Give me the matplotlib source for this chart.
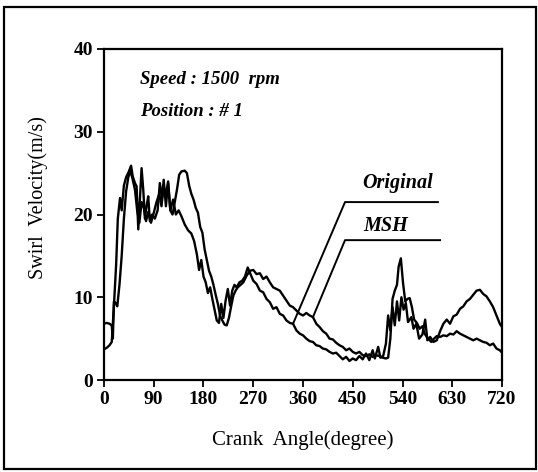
import matplotlib
matplotlib.use('Agg')
import matplotlib.pyplot as plt
from matplotlib.patches import Rectangle

plt.rcParams['font.family'] = 'Liberation Serif'

# Original
ang_orig = [0, 5, 10, 14, 18, 22, 25, 29, 32, 36, 40, 45, 49, 52, 56, 59, 62, 65, 68, 71,
            74, 77, 80, 83, 87, 92, 97, 101, 105, 108, 112, 116, 120, 125, 130, 135, 140, 146, 152, 158,
            163, 168, 172, 176, 180, 184, 188, 192, 196, 200, 204, 208, 212, 216, 220, 224, 228, 232, 236, 240,
            245, 250, 255, 260, 265, 270, 276, 282, 288, 294, 300, 306, 312, 318, 324, 330, 336, 342, 348, 354,
            360, 366, 372, 378, 384, 390, 396, 402, 408, 414, 420, 426, 432, 438, 444, 450, 456, 462, 468, 474,
            480, 486, 490, 496, 500, 505, 510, 514, 518, 522, 526, 530, 534, 538, 542, 546, 550, 556, 560, 565,
            570, 576, 581, 585, 590, 596, 602, 608, 614, 620, 626, 632, 638, 644, 650, 656, 662, 668, 674, 680,
            686, 692, 698, 704, 710, 716, 720]
vel_orig = [3.7, 3.9, 4.2, 4.6, 9.0, 14.0, 19.5, 22.0, 20.5, 23.5, 24.5, 25.2, 25.9, 24.6, 23.8, 23.4, 18.2, 22.0, 25.6, 23.0,
            19.5, 21.0, 22.2, 19.2, 20.0, 19.5, 20.5, 23.8, 22.0, 24.2, 21.0, 23.8, 20.5, 21.8, 20.0, 20.5, 19.8, 18.8, 18.1, 17.7,
            16.8, 15.2, 13.3, 14.5, 12.5, 11.8, 10.5, 11.2, 9.8, 8.5, 7.2, 6.9, 9.2, 7.5, 9.6, 11.0, 9.0, 10.8, 11.5, 11.2,
            11.8, 12.0, 12.5, 13.6, 12.8, 12.0, 11.6, 10.8, 10.6, 9.8, 9.4, 8.6, 8.8, 8.0, 7.8, 7.2, 6.9, 6.8, 6.0, 5.6,
            5.4, 5.0, 4.7, 4.6, 4.2, 4.1, 3.8, 3.7, 3.4, 3.2, 3.3, 2.9, 2.5, 2.8, 2.3, 2.6, 2.4, 2.9, 2.5, 3.2,
            2.4, 3.6, 2.6, 4.0, 2.7, 2.9, 4.4, 7.8, 6.0, 8.8, 6.6, 9.5, 7.2, 10.0, 8.5, 9.3, 7.0, 7.6, 6.2, 6.8,
            5.0, 5.5, 7.3, 4.8, 5.2, 4.6, 4.8, 5.9, 6.8, 7.3, 6.8, 7.7, 7.9, 8.6, 8.9, 9.5, 9.8, 10.3, 10.8, 10.9,
            10.4, 10.1, 9.5, 8.8, 7.8, 6.8, 6.4]

# MSH
ang_msh = [0, 5, 10, 14, 16, 18, 21, 24, 28, 32, 36, 40, 44, 48, 52, 56, 60, 64, 68, 72,
           76, 80, 85, 90, 95, 100, 104, 108, 112, 116, 120, 124, 128, 132, 136, 140, 146, 150, 154, 158,
           162, 166, 170, 174, 178, 182, 186, 190, 194, 198, 202, 206, 210, 214, 218, 222, 226, 230, 234, 238,
           242, 247, 252, 258, 264, 270, 276, 282, 288, 294, 300, 306, 312, 318, 324, 330, 336, 342, 348, 354,
           360, 366, 372, 378, 384, 390, 396, 402, 408, 414, 420, 426, 432, 438, 444, 450, 456, 462, 468, 474,
           480, 486, 492, 498, 504, 510, 514, 518, 522, 526, 530, 533, 537, 541, 545, 549, 553, 557, 561, 566,
           571, 576, 580, 584, 588, 592, 597, 602, 608, 614, 620, 626, 632, 638, 644, 650, 656, 662, 668, 674,
           680, 686, 692, 698, 704, 710, 716, 720]
vel_msh = [6.8, 6.9, 6.8, 6.6, 5.0, 9.5, 9.3, 8.9, 11.5, 15.0, 19.5, 22.8, 24.5, 25.3, 24.2, 23.0, 20.5, 19.0, 21.5, 20.8,
           19.2, 20.3, 19.0, 20.2, 21.5, 22.5, 21.0, 23.5, 22.2, 24.0, 20.5, 20.0, 21.5, 23.0, 24.8, 25.2, 25.3, 25.0, 23.5, 22.5,
           21.8, 20.8, 20.2, 18.5, 17.8, 15.8, 14.5, 13.2, 12.5, 11.5, 10.3, 9.2, 7.8, 7.2, 6.7, 6.6, 7.5, 8.9, 10.2, 10.8,
           11.2, 11.5, 11.8, 12.6, 13.2, 13.3, 12.8, 12.9, 12.2, 12.5, 11.8, 11.2, 11.0, 10.8, 10.2, 9.6, 9.0, 8.8, 8.4, 8.0,
           7.8, 8.1, 7.8, 7.6, 6.8, 6.4, 5.9, 5.6, 5.0, 4.9, 4.5, 4.2, 4.0, 3.6, 3.8, 3.4, 3.2, 3.4, 3.0, 2.9,
           3.1, 2.8, 3.0, 2.9, 2.7, 2.6, 2.7, 5.0, 9.8, 10.8, 11.5, 13.7, 14.7, 11.7, 9.5, 9.8, 9.9, 8.8, 7.3, 6.9,
           6.2, 6.5, 5.6, 5.2, 4.9, 4.6, 5.0, 5.3, 5.2, 5.4, 5.3, 5.6, 5.5, 5.9, 5.6, 5.4, 5.2, 5.0, 4.8, 5.0,
           4.8, 4.6, 4.5, 4.2, 4.4, 3.8, 3.6, 3.3]

x_ticks = [0, 90, 180, 270, 360, 450, 540, 630, 720]
y_ticks = [0, 10, 20, 30, 40]

fig = plt.figure(figsize=(5.38, 4.72), dpi=100)
ax = fig.add_axes([0.1933, 0.1949, 0.7398, 0.7013])

ax.plot(ang_orig, vel_orig, color='black', linewidth=1.7)
ax.plot(ang_msh, vel_msh, color='black', linewidth=1.7)

ax.set_xlim(0, 720)
ax.set_ylim(0, 40)
ax.set_xticks(x_ticks)
ax.set_yticks(y_ticks)
ax.tick_params(direction='out', length=5, width=1.3, labelsize=14, pad=3)
for lab in ax.get_xticklabels() + ax.get_yticklabels():
    lab.set_fontweight('bold')
for s in ax.spines.values():
    s.set_linewidth(1.6)

ax.set_xlabel('Crank  Angle(degree)', fontsize=15, labelpad=16)
fig.text(38 / 538, 1 - 198 / 472, 'Swirl  Velocity(m/s)', rotation=90,
         fontsize=14.5, ha='center', va='center')

ax.text(65, 36.3, 'Speed : 1500  rpm', fontsize=13.5, style='italic', fontweight='bold', va='center')
ax.text(65, 32.4, 'Position : # 1', fontsize=13.5, style='italic', fontweight='bold', va='center')

# labels with leader lines ending on the curves
i_o = ang_orig.index(342)
i_m = ang_msh.index(378)
ax.text(532, 23.8, 'Original', fontsize=14.5, style='italic', fontweight='bold', ha='center', va='center')
ax.plot([604, 436, ang_orig[i_o]], [21.5, 21.5, vel_orig[i_o]], color='black', linewidth=1.4)
ax.text(510, 18.6, 'MSH', fontsize=14.5, style='italic', fontweight='bold', ha='center', va='center')
ax.plot([608, 436, ang_msh[i_m]], [16.9, 16.9, vel_msh[i_m]], color='black', linewidth=1.4)

# outer frame of the figure
fig.patches.append(Rectangle((4 / 538, 3 / 472), 532 / 538, 462 / 472, transform=fig.transFigure,
                             fill=False, edgecolor='black', linewidth=1.6))

fig.savefig('out.png', dpi=100)
